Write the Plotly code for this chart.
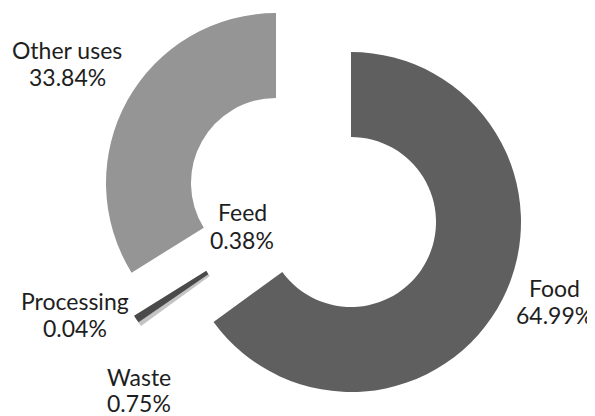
import plotly.graph_objects as go

# share of total use, in percent, clockwise from 12 o'clock
labels = ["Food", "Feed", "Processing", "Waste", "Other uses"]
shares = [64.99, 0.38, 0.04, 0.75, 33.84]

colors = {"Food": "#5f5f5f", "Feed": "#c4c4c4", "Processing": "#8a8a8a",
          "Waste": "#4a4a4a", "Other uses": "#959595"}

# the page body has an 8px margin, so the figure starts at (8, 8) on screen
OFF = 8
W, H = 595 - OFF, 416 - OFF
R = 170  # outer radius in px

# exploded donut: each group of slices is drawn as its own ring,
# centred where the pulled-out piece sits (screen px)
groups = [
    (["Food"], (351, 222)),
    (["Other uses"], (276, 183)),
    (["Feed", "Processing", "Waste"], (278.5, 226)),
]

# label placement in screen px: x centre, y of name line, y of value line
label_pos = {
    "Food": (554, 288, 315),
    "Feed": (242, 212, 240),
    "Processing": (75, 301, 328),
    "Waste": (139, 377, 403),
    "Other uses": (67, 50, 77),
}

fig = go.Figure()
for shown, (cx, cy) in groups:
    x0, x1 = cx - OFF - R, cx - OFF + R
    y0, y1 = cy - OFF - R, cy - OFF + R
    fig.add_trace(go.Pie(
        labels=labels,
        values=shares,
        sort=False,
        direction="clockwise",
        rotation=0,
        hole=0.5,
        marker=dict(colors=[colors[l] if l in shown else "rgba(0,0,0,0)" for l in labels],
                    line=dict(width=0)),
        textinfo="none",
        hoverinfo="skip",
        domain=dict(x=[x0 / W, x1 / W], y=[1 - y1 / H, 1 - y0 / H]),
        showlegend=False,
    ))

fnt = dict(family="Lato", size=23, color="#1e1e1e")
for lab, val in zip(labels, shares):
    cx, y1, y2 = label_pos[lab]
    for txt, yy in ((lab, y1), (f"{val:.2f}%", y2)):
        fig.add_annotation(
            x=(cx - OFF) / W, y=1 - (yy - OFF) / H, xref="paper", yref="paper",
            text=txt, showarrow=False,
            xanchor="center", yanchor="middle",
            borderpad=0, font=fnt,
        )

fig.update_layout(
    width=W, height=H,
    margin=dict(l=0, r=0, t=0, b=0),
    paper_bgcolor="white",
    plot_bgcolor="white",
)

fig.write_html("out.html")
